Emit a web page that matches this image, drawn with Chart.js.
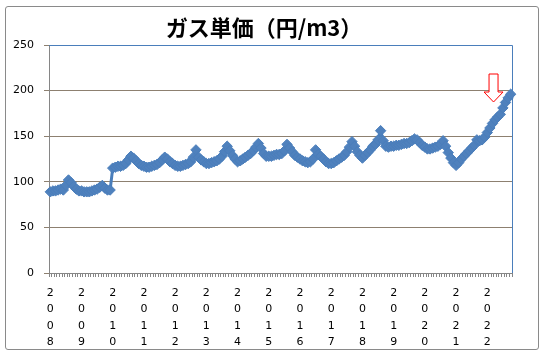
<!DOCTYPE html>
<html>
<head>
<meta charset="utf-8">
<script src="https://cdn.jsdelivr.net/npm/chart.js@4.4.1/dist/chart.umd.min.js"></script>
<style>
  html, body { margin: 0; padding: 0; background: #ffffff; }
  #wrap { position: relative; width: 543px; height: 359px; }
  #frame { position: absolute; left: 5px; top: 6px; width: 532px; height: 342px;
           border: 1px solid #8a8a8a; border-radius: 3px; pointer-events: none; }
  canvas { position: absolute; left: 0; top: 0; }
</style>
</head>
<body>
<div id="wrap">
  <div id="frame"></div>
  <canvas id="c" width="543" height="359"></canvas>
</div>
<script>
// ---- data (monthly gas unit price, yen per m3) ----
const years = [2008, 2009, 2010, 2011, 2012, 2013, 2014, 2015, 2016, 2017, 2018, 2019, 2020, 2021, 2022];
const v2008 = [89, 90, 90, 91, 92, 91, 96, 102, 99, 95, 92, 90];
const v2009 = [90, 89, 89, 89, 90, 91, 92, 94, 96, 93, 91, 91];
const v2010 = [115, 116, 117, 117, 118, 120, 124, 128, 126, 123, 120, 118];
const v2011 = [117, 116, 116, 117, 118, 119, 121, 124, 127, 125, 122, 120];
const v2012 = [118, 117, 117, 118, 119, 120, 122, 127, 135, 127, 124, 122];
const v2013 = [120, 120, 121, 122, 123, 125, 128, 133, 139, 134, 129, 125];
const v2014 = [122, 123, 125, 127, 129, 131, 134, 138, 142, 137, 131, 128];
const v2015 = [128, 128, 129, 130, 130, 131, 134, 141, 137, 133, 129, 127];
const v2016 = [125, 123, 122, 121, 122, 125, 135, 130, 128, 125, 122, 120];
const v2017 = [120, 121, 123, 125, 127, 129, 133, 138, 144, 139, 133, 129];
const v2018 = [126, 129, 132, 135, 139, 141, 146, 156, 145, 139, 138, 139];
const v2019 = [139, 140, 140, 141, 142, 142, 143, 145, 147, 146, 143, 140];
const v2020 = [138, 136, 136, 137, 138, 139, 141, 145, 139, 132, 126, 121];
const v2021 = [118, 121, 125, 128, 131, 134, 137, 140, 146, 145, 146, 149];
const v2022 = [154, 159, 164, 168, 171, 174, 181, 187, 192, 196];
const yearValues = [v2008, v2009, v2010, v2011, v2012, v2013, v2014, v2015, v2016, v2017, v2018, v2019, v2020, v2021, v2022];
const yTicks = [0, 50, 100, 150, 200, 250];
const titleText = 'ガス単価（円/m3）';
// annotation arrow: points at (month index, value)
const arrowIndex = 170.4;
const arrowValue = 187.5;

// build category labels: year on the January of each year, blank otherwise
const labels = [];
const values = [];
yearValues.forEach((arr, yi) => {
  arr.forEach((v, mi) => {
    labels.push(mi === 0 ? String(years[yi]) : '');
    values.push(v);
  });
});

const plotBorder = {
  id: 'plotBorder',
  beforeDatasetsDraw(chart) {
    const a = chart.chartArea, ctx = chart.ctx;
    ctx.save();
    ctx.strokeStyle = '#4a7ebb';
    ctx.lineWidth = 1;
    ctx.beginPath();
    ctx.moveTo(a.left, a.top + 0.5);
    ctx.lineTo(a.right + 0.5, a.top + 0.5);
    ctx.lineTo(a.right + 0.5, a.bottom);
    ctx.stroke();
    ctx.restore();
  }
};

const titlePlugin = {
  id: 'chartTitle',
  afterDraw(chart) {
    const ctx = chart.ctx;
    ctx.save();
    ctx.fillStyle = '#000000';
    ctx.font = 'bold 22px "Noto Sans CJK JP", sans-serif';
    ctx.textAlign = 'center';
    ctx.textBaseline = 'middle';
    ctx.fillText(titleText, 264, 28);
    ctx.restore();
  }
};

const arrowPlugin = {
  id: 'arrow',
  afterDatasetsDraw(chart) {
    const xs = chart.scales.x, ys = chart.scales.y, ctx = chart.ctx;
    const i0 = Math.floor(arrowIndex);
    const tx = xs.getPixelForValue(i0) + (xs.getPixelForValue(i0 + 1) - xs.getPixelForValue(i0)) * (arrowIndex - i0);
    const ty = ys.getPixelForValue(arrowValue);
    const shaftHalf = 4.5, headHalf = 9.5, headLen = 10, shaftLen = 18;
    ctx.save();
    ctx.fillStyle = '#ffffff';
    ctx.strokeStyle = '#ff0000';
    ctx.lineWidth = 1;
    ctx.beginPath();
    ctx.moveTo(tx, ty);
    ctx.lineTo(tx - headHalf, ty - headLen);
    ctx.lineTo(tx - shaftHalf, ty - headLen);
    ctx.lineTo(tx - shaftHalf, ty - headLen - shaftLen);
    ctx.lineTo(tx + shaftHalf, ty - headLen - shaftLen);
    ctx.lineTo(tx + shaftHalf, ty - headLen);
    ctx.lineTo(tx + headHalf, ty - headLen);
    ctx.closePath();
    ctx.fill();
    ctx.stroke();
    ctx.restore();
  }
};

new Chart(document.getElementById('c'), {
  type: 'line',
  data: {
    labels: labels,
    datasets: [{
      data: values,
      borderColor: '#4a7ebb',
      borderWidth: 3,
      backgroundColor: '#4f81bd',
      pointStyle: 'rectRot',
      pointRadius: 5.2,
      pointBorderWidth: 1,
      pointBorderColor: '#4a7ebb',
      pointBackgroundColor: '#4f81bd',
      tension: 0
    }]
  },
  options: {
    responsive: false,
    animation: false,
    events: [],
    layout: { padding: { left: 0, right: 31, top: 45, bottom: 0 } },
    plugins: {
      legend: { display: false },
      tooltip: { enabled: false },
      title: { display: false }
    },
    scales: {
      x: {
        type: 'category',
        offset: true,
        afterFit(scale) { scale.height = 86; },
        grid: { display: true, offset: true, drawOnChartArea: false, drawTicks: true, tickLength: 4, color: '#868686' },
        border: { display: true, color: '#868686', width: 1 },
        ticks: {
          autoSkip: false,
          maxRotation: 0,
          minRotation: 0,
          padding: 8,
          color: '#000000',
          font: { family: '"DejaVu Sans", sans-serif', size: 11, lineHeight: 1.48 },
          callback(value, index) {
            const l = labels[index];
            return l ? l.split('') : '';
          }
        }
      },
      y: {
        min: 0,
        max: 250,
        afterFit(scale) { scale.width = 49; },
        afterBuildTicks(scale) { scale.ticks = yTicks.map(v => ({ value: v })); },
        grid: { color: '#8d8070', tickLength: 5, drawTicks: true },
        border: { display: true, color: '#868686', width: 1 },
        ticks: {
          padding: 10,
          color: '#000000',
          font: { family: '"DejaVu Sans", sans-serif', size: 11 }
        }
      }
    }
  },
  plugins: [plotBorder, arrowPlugin, titlePlugin]
});
</script>
</body>
</html>
